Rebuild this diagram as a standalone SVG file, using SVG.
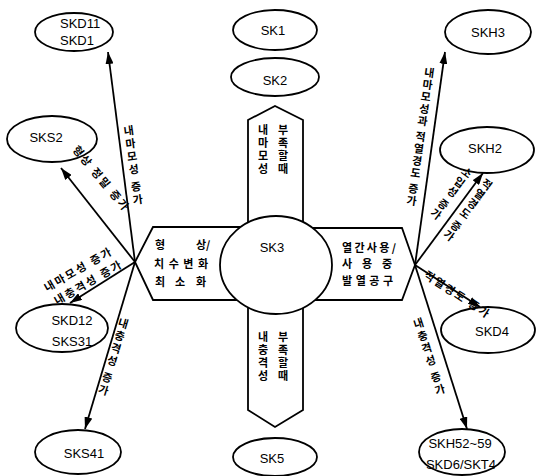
<svg xmlns="http://www.w3.org/2000/svg" width="541" height="476" viewBox="0 0 541 476">
  <defs>
    <marker id="arrow" viewBox="0 0 12 8" refX="12" refY="4" markerWidth="12" markerHeight="8" markerUnits="userSpaceOnUse" orient="auto">
      <path d="M0,0 L12,4 L0,8 Z" fill="#000"/>
    </marker>
    <style>
      .shape { fill: #fff; stroke: #000; stroke-width: 1.8; }
      .conn { stroke: #000; stroke-width: 1.8; fill: none; marker-end: url(#arrow); }
      .lbl { font-family: "Liberation Sans", Arial, sans-serif; font-size: 13px; fill: #000; text-anchor: middle; }
      .kr { font-family: "Noto Sans CJK KR", "Noto Sans", sans-serif; font-size: 11px; font-weight: bold; fill: #000; }
      .v { writing-mode: vertical-rl; letter-spacing: 2px; }
      .h { letter-spacing: 2px; }
    </style>
  </defs>
  <rect width="541" height="476" fill="#fff"/>

  <!-- central cross: four arms behind the SK3 disc -->
  <g id="arm-top">
    <polygon class="shape" points="248,263 248,120 275,106 303,120 303,263"/>
    <text class="kr v" x="263" y="124">내마모성</text>
    <text class="kr v" x="283" y="124">부족할때</text>
  </g>
  <g id="arm-bottom">
    <polygon class="shape" points="248,263 248,410 275,427 303,410 303,263"/>
    <text class="kr v" x="263" y="331">내충격성</text>
    <text class="kr v" x="283" y="331">부족할때</text>
  </g>
  <g id="arm-left">
    <polygon class="shape" points="275,227 153,227 135,262 153,300 275,300"/>
    <text class="kr" x="155" y="249">형</text>
    <text class="kr" x="196" y="249">상/</text>
    <text class="kr" x="154" y="268" textLength="54" lengthAdjust="spacing">치수변화</text>
    <text class="kr" x="155" y="286">최</text>
    <text class="kr" x="175" y="286">소</text>
    <text class="kr" x="196" y="286">화</text>
  </g>
  <g id="arm-right">
    <polygon class="shape" points="275,228 402,228 415,265 402,300 275,300"/>
    <text class="kr" x="342" y="252" textLength="54" lengthAdjust="spacing">열간사용/</text>
    <text class="kr" x="342" y="268">사</text>
    <text class="kr" x="362" y="268">용</text>
    <text class="kr" x="382" y="268">중</text>
    <text class="kr" x="342" y="285" textLength="51" lengthAdjust="spacing">발열공구</text>
  </g>
  <g id="SK3">
    <ellipse class="shape" cx="276" cy="265" rx="56" ry="49"/>
    <text class="lbl" x="272" y="252">SK3</text>
  </g>

  <!-- material nodes -->
  <g id="SK1">
    <ellipse class="shape" cx="275" cy="30" rx="42" ry="20"/>
    <text class="lbl" x="273" y="35">SK1</text>
  </g>
  <g id="SK2">
    <ellipse class="shape" cx="275" cy="77" rx="44" ry="19"/>
    <text class="lbl" x="275" y="85">SK2</text>
  </g>
  <g id="SK5">
    <ellipse class="shape" cx="275" cy="457" rx="42" ry="19"/>
    <text class="lbl" x="272" y="463">SK5</text>
  </g>
  <g id="SKD11">
    <ellipse class="shape" cx="74" cy="32" rx="39" ry="19"/>
    <text class="lbl" x="60" y="28" style="text-anchor:start">SKD11</text>
    <text class="lbl" x="60" y="45" style="text-anchor:start">SKD1</text>
  </g>
  <g id="SKS2">
    <ellipse class="shape" cx="52" cy="139" rx="45" ry="23"/>
    <text class="lbl" x="46" y="142">SKS2</text>
  </g>
  <g id="SKD12">
    <ellipse class="shape" cx="62" cy="328" rx="46" ry="24"/>
    <text class="lbl" x="72" y="325">SKD12</text>
    <text class="lbl" x="72" y="346">SKS31</text>
  </g>
  <g id="SKS41">
    <ellipse class="shape" cx="78" cy="452" rx="43" ry="22"/>
    <text class="lbl" x="84" y="458">SKS41</text>
  </g>
  <g id="SKH3">
    <ellipse class="shape" cx="488" cy="32" rx="43" ry="22"/>
    <text class="lbl" x="488" y="37">SKH3</text>
  </g>
  <g id="SKH2">
    <ellipse class="shape" cx="487" cy="150" rx="47" ry="23"/>
    <text class="lbl" x="485" y="153">SKH2</text>
  </g>
  <g id="SKD4">
    <ellipse class="shape" cx="488" cy="330" rx="47" ry="23"/>
    <text class="lbl" x="492" y="336">SKD4</text>
  </g>
  <g id="SKH52">
    <ellipse class="shape" cx="462" cy="452" rx="43" ry="23"/>
    <text class="lbl" x="460" y="448">SKH52~59</text>
    <text class="lbl" x="461" y="469">SKD6/SKT4</text>
  </g>

  <!-- connectors from the two hub points -->
  <g id="connectors">
    <line class="conn" x1="135" y1="262" x2="108" y2="52"/>
    <line class="conn" x1="135" y1="262" x2="61" y2="168"/>
    <line class="conn" x1="135" y1="262" x2="70" y2="303"/>
    <line class="conn" x1="135" y1="262" x2="85" y2="429"/>
    <line class="conn" x1="415" y1="265" x2="445" y2="52"/>
    <line class="conn" x1="415" y1="265" x2="483" y2="173"/>
    <line class="conn" x1="415" y1="265" x2="480" y2="307"/>
    <line class="conn" x1="415" y1="265" x2="467" y2="429"/>
  </g>

  <!-- connector labels -->
  <g id="connector-labels">
    <text class="kr v" transform="translate(128,125) rotate(-7.4)">내마모성 증가</text>
    <text class="kr h" transform="translate(72,150) rotate(50)">형상 정밀 증가</text>
    <text class="kr h" transform="translate(47,292) rotate(-30)">내마모성 증가</text>
    <text class="kr h" transform="translate(57,305) rotate(-30)">내충격성 증가</text>
    <text class="kr v" transform="translate(125,318) rotate(16.7)">내충격성 증가</text>
    <text class="kr v" style="letter-spacing:1.2px" transform="translate(430,67) rotate(7.8)">내마모성과 적열경도 증가</text>
    <text class="kr v" style="letter-spacing:1px" transform="translate(470,168) rotate(36.5)">소입성 증가</text>
    <text class="kr v" style="letter-spacing:1px" transform="translate(490,180) rotate(36.5)">적열경도 증가</text>
    <text class="kr h" transform="translate(423,277) rotate(33)">적열경도 증가</text>
    <text class="kr v" transform="translate(417,318) rotate(-17.7)">내충격성 증가</text>
  </g>
</svg>
